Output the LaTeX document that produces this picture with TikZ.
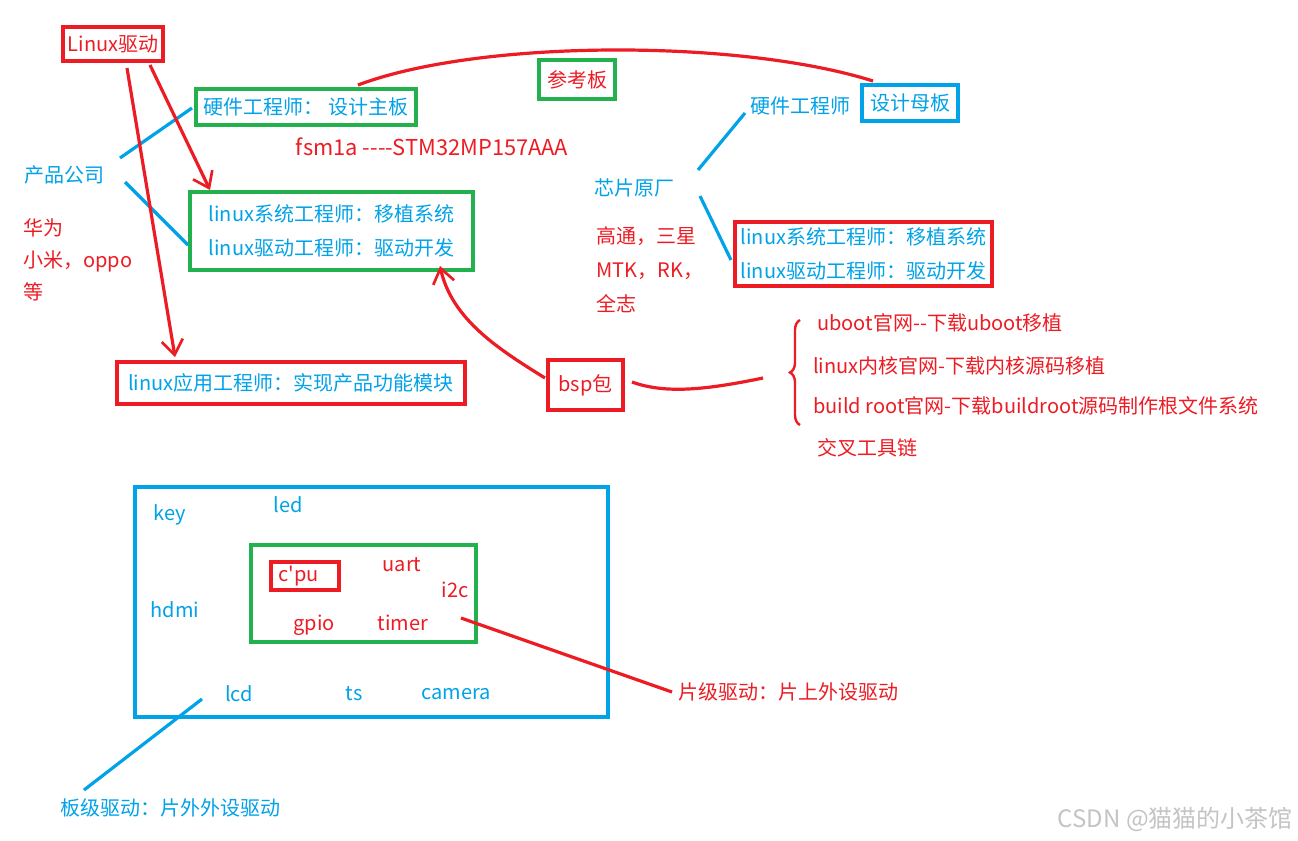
\documentclass[tikz,border=0pt]{standalone}
\usepackage{fontspec}
\setmainfont{Noto Sans CJK SC}[Ligatures=TeXOff]
\usetikzlibrary{arrows.meta,decorations.pathreplacing,calc}
\definecolor{pblue}{RGB}{0,162,232}
\definecolor{pred}{RGB}{237,28,36}
\definecolor{pgreen}{RGB}{34,177,76}
\definecolor{wgray}{RGB}{196,196,196}
\newcommand\mysz{\fontsize{15}{18}\selectfont}
\newcommand\mytwo{\fontsize{15}{25.5}\selectfont}
\begin{document}
\begin{tikzpicture}[x=0.75pt,y=-0.75pt,
  box/.style={draw, line width=2.5pt, inner sep=0pt, font=\mysz},
  txt/.style={inner sep=0pt, font=\mysz},
  multi/.style={inner sep=0pt, font=\mytwo, align=left},
  bline/.style={draw=pblue, line width=2.4pt},
  rline/.style={draw=pred, line width=2.4pt},
  rarrow/.style={draw=pred, line width=2.4pt, -{Straight Barb[length=11pt,width=16pt,line width=2pt]}}
]
\fill[white] (0,0) rectangle (1298,840);
\useasboundingbox (0,0) rectangle (1298,840);

% ---- top left ----
\node[box, draw=pred, text=pred, minimum width=75pt, minimum height=25.5pt] (lqd) at (113,44) {Linux驱动};
\node[box, draw=pgreen, text=pblue, minimum width=165pt, minimum height=27pt] (hw) at (306,107) {硬件工程师：\hspace{0.25em}设计主板};
\node[box, draw=pgreen, text=pred, minimum width=57pt, minimum height=29.25pt] (ckb) at (577,79.5) {参考板};
\node[txt, text=pred, font=\fontsize{16.4}{19}\selectfont] (fsm) at (432,147) {fsm1a ----STM32MP157AAA};
\node[box, draw=pblue, text=pblue, minimum width=72pt, minimum height=27pt] (sjmb) at (910,103) {设计母板};
\node[txt, text=pblue] (hwe) at (800,106) {硬件工程师};
\node[txt, text=pblue] (xpyc) at (634,188) {芯片原厂};
\node[multi, text=pred, anchor=west] (vend) at (596,270) {高通，三星\\MTK，RK，\\全志};
\node[box, multi, draw=pred, text=pblue, minimum width=192.75pt, minimum height=48pt] (rbox) at (863.5,254) {linux系统工程师：移植系统\\linux驱动工程师：驱动开发};

\node[txt, text=pblue] (cpgs) at (64,175) {产品公司};
\node[multi, text=pred, anchor=west, font=\fontsize{15}{24}\selectfont] (brand) at (23,260) {华为\\小米，oppo\\等};
\node[box, multi, draw=pgreen, text=pblue, minimum width=212.25pt, minimum height=58.5pt] (gbox) at (331.5,231) {linux系统工程师：移植系统\\linux驱动工程师：驱动开发};
\node[box, draw=pred, text=pblue, minimum width=261pt, minimum height=31.5pt] (app) at (291,383) {linux应用工程师：实现产品功能模块};
\node[box, draw=pred, text=pred, minimum width=56.25pt, minimum height=37.5pt] (bsp) at (585.5,385) {bsp包};

\node[txt, text=pred, anchor=west] (t1) at (817,323) {uboot官网--下载uboot移植};
\node[txt, text=pred, anchor=west] (t2) at (813,366) {linux内核官网-下载内核源码移植};
\node[txt, text=pred, anchor=west] (t3) at (813,406) {build root官网-下载buildroot源码制作根文件系统};
\node[txt, text=pred, anchor=west] (t4) at (817,448) {交叉工具链};

% ---- board ----
\node[box, draw=pblue, minimum width=354.75pt, minimum height=172.5pt] (board) at (371.5,602) {};
\node[box, draw=pgreen, minimum width=168.75pt, minimum height=72.75pt] (chip) at (363.5,593.5) {};
\node[box, draw=pred, text=pred, minimum width=51pt, minimum height=21pt, text width=40pt, align=left] (cpu) at (305,576) {c'pu};
\node[txt, text=pblue] (key) at (170,515) {key};
\node[txt, text=pblue] (led) at (288,505) {led};
\node[txt, text=pblue] (hdmi) at (175,610) {hdmi};
\node[txt, text=pblue] (lcd) at (239,694) {lcd};
\node[txt, text=pblue] (ts) at (354,694) {ts};
\node[txt, text=pblue] (cam) at (456,694) {camera};
\node[txt, text=pred] (uart) at (402,565) {uart};
\node[txt, text=pred] (i2c) at (455,590) {i2c};
\node[txt, text=pred] (gpio) at (314,625) {gpio};
\node[txt, text=pred] (timer) at (403,623) {timer};
\node[txt, text=pred, anchor=west] (pj) at (678,692) {片级驱动：片上外设驱动};
\node[txt, text=pblue, anchor=west] (bj) at (60,808) {板级驱动：片外外设驱动};
\node[inner sep=0pt, text=wgray, font=\fontsize{18}{20}\selectfont, anchor=east] (wm) at (1293,819) {CSDN @猫猫的小茶馆};

% ---- connector end points ----
\coordinate (c1a) at (120,158); \coordinate (c1b) at (192,108);
\coordinate (c2a) at (125,182); \coordinate (c2b) at (188,245);
\coordinate (c3a) at (698,170); \coordinate (c3b) at (745,113);
\coordinate (c4a) at (700,196); \coordinate (c4b) at (731,260);
\coordinate (a1s) at (150,65);  \coordinate (a1e) at (210,190);
\coordinate (a2s) at (127,68);  \coordinate (a2e) at (175,357);
\coordinate (k1) at (358,85);   \coordinate (k2) at (873,81);
\coordinate (b1) at (545,378);  \coordinate (b2) at (440,266);
\coordinate (w1) at (632,382);  \coordinate (w2) at (763,378);
\coordinate (brt) at (800,320); \coordinate (brb) at (800,425);
\coordinate (p1) at (461,618);  \coordinate (p2) at (672,692);
\coordinate (q1) at (202,699);  \coordinate (q2) at (84,790);

\draw[bline] (c1a) -- (c1b);
\draw[bline] (c2a) -- (c2b);
\draw[bline] (c3a) -- (c3b);
\draw[bline] (c4a) -- (c4b);
\draw[rarrow] (a1s) -- (a1e);
\draw[rarrow] (a2s) -- (a2e);
\draw[rline] (k1) .. controls (480,39) and (740,39) .. (k2);
\draw[rarrow] (b1) .. controls (500,350) and (452,320) .. (b2);
\draw[rline] (w1) .. controls (665,394) and (705,390) .. (w2);
\draw[draw=pred, line width=1.8pt, decorate, decoration={brace, amplitude=7.5pt}] (brb) -- (brt);
\draw[rline] (p1) -- (p2);
\draw[bline] (q1) -- (q2);
\end{tikzpicture}
\end{document}
